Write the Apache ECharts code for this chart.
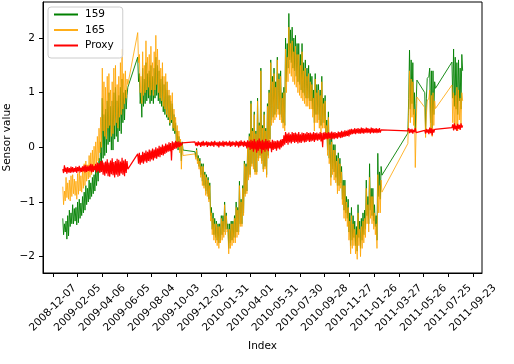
<!DOCTYPE html>
<html>
<head>
<meta charset="utf-8">
<script src="https://cdn.jsdelivr.net/npm/echarts@6/dist/echarts.min.js"></script>
<style>
html, body { margin: 0; padding: 0; background: #fff; }
#chart { width: 514px; height: 364px; }
</style>
</head>
<body>
<div id="chart"></div>
<script>
// x tick labels, one every 60 days starting 2008-12-07
const tickLabels = ['2008-12-07', '2009-02-05', '2009-04-06', '2009-06-05', '2009-08-04', '2009-10-03',
    '2009-12-02', '2010-01-31', '2010-04-01', '2010-05-31', '2010-07-30', '2010-09-28',
    '2010-11-27', '2011-01-26', '2011-03-27', '2011-05-26', '2011-07-25', '2011-09-23'];

// recording runs: [first day (days since 2008-12-07), number of samples], one sample every 2 days
const runs = [[24, 80], [206, 56], [345, 228], [862, 12], [903, 14], [969, 14]];
const sampleStep = 2;

const sensor159 = [
    // run 1
    -1.30, -1.60, -1.40, -1.55, -1.35, -1.68, -1.25, -1.62, -1.15, -1.45,
    -1.20, -1.40, -1.05, -1.40, -1.12, -1.35, -1.10, -1.42, -1.00, -1.38,
    -0.95, -1.30, -1.02, -1.25, -0.90, -1.20, -0.82, -1.15, -0.70, -1.05,
    -0.75, -1.00, -0.60, -0.95, -0.65, -0.90, -0.55, -0.85, -0.50, -0.80,
    -0.40, -0.70, -0.35, -0.62, -0.20, -0.45, 0.10, -0.30, 0.90, -0.20,
    0.60, -0.15, 0.70, -0.10, 0.85, 0.05, 1.00, 0.10, 0.75, -0.05,
    0.85, -0.05, 1.00, 0.15, 1.10, 0.20, 0.85, 0.10, 0.95, 0.30,
    1.10, 0.25, 1.25, 0.45, 1.00, 0.50, 1.05, 0.70, 0.95, 1.10,
    // run 2
    1.65, 1.20, 1.35, 0.80, 1.00, 0.55, 1.45, 0.75, 1.25, 0.80,
    1.55, 0.85, 1.35, 0.90, 1.40, 0.80, 1.50, 0.85, 1.30, 0.80,
    1.45, 0.90, 1.65, 0.95, 1.50, 0.85, 1.40, 0.80, 1.25, 0.75,
    1.30, 0.65, 1.15, 0.60, 1.20, 0.55, 1.05, 0.50, 0.95, 0.40,
    0.85, 0.45, 0.80, 0.30, 0.60, 0.25, 0.45, 0.05, 0.30, -0.05,
    0.20, -0.05, 0.10, -0.25, 0.10, -0.05,
    // run 3
    -0.08, -0.18, -0.02, -0.25, -0.15, -0.35, -0.20, -0.50, -0.30, -0.62, -0.30, -0.70, -0.45, -0.80, -0.50, -0.85, -0.55, -0.95, -0.65, -1.25,
    -1.10, -1.50, -1.20, -1.60, -1.30, -1.65, -1.35, -1.70, -1.40, -1.75, -1.40, -1.70, -1.25, -1.60, -1.25, -1.55, -1.00, -1.50, -1.20, -1.50,
    -1.40, -1.85, -1.40, -1.75, -1.35, -1.70, -1.35, -1.65, -1.25, -1.65, -1.00, -1.55, -1.10, -1.55, -0.62, -1.40, -0.95, -1.40, -0.70, -1.20,
    -0.25, -0.85, -0.30, -0.80, 0.10, -0.55, 0.25, -0.50, 0.85, -0.30, 0.35, -0.35, 0.65, -0.45, 0.30, -0.45, 0.90, -0.20, 0.45, -0.15,
    1.45, -0.25, 0.40, -0.40, 0.65, -0.35, 0.35, -0.50, 0.80, -0.15, 1.05, 0.15, 1.60, 0.50, 1.30, 0.55, 1.45, 0.60, 1.20, 0.65,
    1.65, 0.70, 1.35, 0.60, 1.40, 0.55, 1.00, 0.45, 1.10, 0.40, 2.00, 1.20, 1.90, 1.45, 2.45, 1.60, 2.15, 1.55, 2.20, 1.45,
    2.00, 1.40, 2.05, 1.30, 1.90, 1.20, 1.90, 1.15, 1.70, 1.05, 1.90, 1.00, 1.55, 0.95, 1.60, 0.90, 1.45, 0.90, 1.50, 0.85,
    1.35, 0.85, 1.30, 0.70, 1.05, 0.45, 1.35, 0.60, 1.15, 0.60, 1.15, 0.50, 1.05, 0.40, 1.30, 0.45, 0.90, 0.45, 0.95, 0.25,
    0.50, -0.05, 0.65, -0.20, 0.15, -0.55, 0.20, -0.40, 0.05, -0.45, 0.05, -0.55, -0.15, -0.70, -0.10, -0.70, -0.20, -0.65, -0.35, -0.95,
    -0.60, -1.15, -0.60, -1.20, -0.90, -1.30, -0.95, -1.55, -1.20, -1.80, -1.10, -1.70, -1.25, -1.65, -1.35, -1.80, -1.45, -1.90, -1.05, -1.65,
    -1.35, -1.85, -1.30, -1.70, -1.20, -1.60, -1.15, -1.50, -0.60, -1.25, -0.90, -1.40, -0.30, -1.15, -0.75, -1.25, -0.75, -1.35, -1.05, -1.45,
    -1.25, -1.70, -0.11, -0.90, -0.45, -0.95, -0.35, -0.51,
    // run 4
    0.26, 0.90, 1.78, 0.70, 1.60, 0.80, 1.55, 0.60, 1.00, 0.30, 0.80, 1.23,
    // run 5
    1.00, 0.30, 0.90, 1.26, 1.26, 1.30, 1.45, 0.45, 1.40, 0.35, 1.40, 0.60, 1.20, 1.08,
    // run 6
    1.56, 0.90, 1.80, 0.75, 1.65, 0.70, 1.55, 0.60, 1.60, 0.85, 1.45, 0.70, 1.70, 1.40
];

const sensor165 = [
    -0.72, -1.05, -0.80, -0.98, -0.55, -0.92, -0.65, -0.95, -0.60, -0.98,
    -0.52, -0.90, -0.50, -0.85, -0.58, -0.88, -0.62, -0.95, -0.48, -0.86,
    -0.45, -0.80, -0.52, -0.82, -0.40, -0.75, -0.30, -0.70, -0.25, -0.62,
    -0.32, -0.58, -0.15, -0.55, -0.10, -0.50, -0.05, -0.45, 0.02, -0.38,
    0.10, -0.30, 0.20, -0.25, 0.35, -0.10, 0.55, 0.00, 1.45, 0.30,
    1.20, 0.20, 1.10, 0.15, 1.30, 0.35, 1.35, 0.40, 1.05, 0.20,
    1.20, 0.25, 1.45, 0.40, 1.50, 0.45, 1.15, 0.35, 1.30, 0.55,
    1.55, 0.60, 1.80, 0.70, 1.35, 0.80, 1.40, 0.90, 1.25, 1.15,

    2.10, 1.55, 1.70, 1.00, 1.30, 0.80, 1.75, 0.95, 1.50, 1.00,
    1.95, 1.05, 1.65, 1.10, 1.70, 0.95, 1.85, 1.05, 1.55, 0.95,
    1.75, 1.05, 2.05, 1.15, 1.80, 1.00, 1.60, 0.90, 1.45, 0.85,
    1.55, 0.75, 1.30, 0.70, 1.35, 0.60, 1.20, 0.55, 1.05, 0.45,
    0.95, 0.50, 1.00, 0.35, 0.70, 0.30, 0.55, 0.10, 0.40, 0.00,
    0.30, -0.10, 0.15, -0.40, 0.05, -0.15,

    -0.12, -0.22, -0.05, -0.30, -0.20, -0.40, -0.25, -0.55, -0.35, -0.70, -0.35, -0.75, -0.50, -0.88, -0.55, -0.90, -0.60, -1.00, -0.70, -1.35,
    -1.20, -1.60, -1.30, -1.70, -1.40, -1.75, -1.40, -1.80, -1.45, -1.85, -1.45, -1.75, -1.30, -1.70, -1.35, -1.65, -1.05, -1.60, -1.25, -1.55,
    -1.50, -1.95, -1.50, -1.85, -1.40, -1.80, -1.40, -1.75, -1.30, -1.75, -1.10, -1.65, -1.15, -1.60, -0.70, -1.45, -1.00, -1.45, -0.75, -1.25,
    -0.30, -0.90, -0.35, -0.85, 0.05, -0.60, 0.20, -0.55, 0.80, -0.35, 0.30, -0.40, 0.60, -0.50, 0.25, -0.50, 0.85, -0.25, 0.40, -0.20,
    1.40, -0.30, 0.35, -0.45, 0.60, -0.40, 0.30, -0.55, 0.75, -0.20, 1.00, 0.10, 1.55, 0.40, 1.20, 0.45, 1.35, 0.50, 1.10, 0.55,
    1.60, 0.60, 1.25, 0.50, 1.30, 0.45, 0.90, 0.35, 1.00, 0.30, 1.80, 1.00, 1.65, 1.20, 2.20, 1.35, 1.90, 1.30, 1.95, 1.20,
    1.75, 1.15, 1.85, 1.10, 1.70, 1.00, 1.70, 0.95, 1.50, 0.90, 1.75, 0.85, 1.40, 0.80, 1.45, 0.75, 1.30, 0.75, 1.35, 0.70,
    1.20, 0.70, 1.15, 0.55, 0.90, 0.30, 1.25, 0.45, 1.00, 0.45, 1.05, 0.35, 0.95, 0.25, 1.20, 0.35, 0.80, 0.35, 0.85, 0.15,
    0.40, -0.15, 0.55, -0.30, 0.05, -0.70, 0.10, -0.50, -0.05, -0.60, -0.05, -0.65, -0.25, -0.85, -0.20, -0.80, -0.30, -0.75, -0.45, -1.05,
    -0.70, -1.30, -0.70, -1.35, -1.00, -1.45, -1.10, -1.70, -1.35, -1.95, -1.25, -1.85, -1.40, -1.80, -1.50, -1.95, -1.60, -2.05, -1.20, -1.80,
    -1.50, -2.00, -1.45, -1.85, -1.35, -1.75, -1.30, -1.65, -0.75, -1.40, -1.05, -1.55, -0.55, -1.30, -0.90, -1.40, -0.90, -1.50, -1.20, -1.60,
    -1.40, -1.85, -0.50, -1.20, -0.70, -1.20, -0.60, -0.82,

    0.07, 0.60, 1.40, 0.45, 1.25, 0.55, 1.20, 0.40, 0.70, -0.37, 0.30, 0.92,

    0.73, 0.18, 0.60, 0.85, 0.85, 0.90, 1.05, 0.30, 0.95, 0.20, 1.00, 0.40, 0.85, 0.71,

    1.14, 0.45, 1.00, 0.35, 0.95, 0.40, 1.10, 0.30, 1.05, 0.50, 0.90, 0.40, 1.00, 0.85
];

const proxy = [
    -0.40, -0.47, -0.33, -0.45, -0.37, -0.48, -0.36, -0.46, -0.38, -0.47,
    -0.35, -0.46, -0.36, -0.46, -0.38, -0.45, -0.35, -0.47, -0.36, -0.44,
    -0.34, -0.46, -0.37, -0.45, -0.35, -0.44, -0.33, -0.46, -0.32, -0.45,
    -0.35, -0.43, -0.33, -0.44, -0.30, -0.46, -0.31, -0.45, -0.34, -0.42,
    -0.30, -0.46, -0.28, -0.44, -0.29, -0.47, -0.25, -0.45, -0.24, -0.50,
    -0.28, -0.52, -0.26, -0.48, -0.22, -0.53, -0.28, -0.54, -0.24, -0.49,
    -0.20, -0.51, -0.27, -0.55, -0.25, -0.50, -0.21, -0.54, -0.23, -0.52,
    -0.26, -0.48, -0.19, -0.50, -0.24, -0.53, -0.22, -0.47, -0.25, -0.40,

    -0.12, -0.30, -0.10, -0.32, -0.14, -0.28, -0.08, -0.30, -0.10, -0.26,
    -0.06, -0.28, -0.08, -0.25, -0.04, -0.26, -0.06, -0.22, -0.02, -0.24,
    -0.04, -0.20, 0.00, -0.21, -0.02, -0.17, 0.03, -0.18, 0.01, -0.14,
    0.05, -0.15, 0.03, -0.12, 0.07, -0.10, 0.05, -0.08, 0.09, -0.07,
    0.08, -0.24, 0.11, -0.05, 0.09, -0.03, 0.12, -0.02, 0.10, 0.00,
    0.11, 0.01, 0.09, 0.03, 0.08, 0.05,

    0.10, 0.03, 0.09, 0.02, 0.11, 0.04, 0.09, 0.01, 0.10, 0.03, 0.12, 0.02, 0.09, 0.04, 0.11, 0.01, 0.10, 0.03, 0.09, 0.02,
    0.11, 0.03, 0.10, 0.01, 0.12, 0.04, 0.09, 0.02, 0.10, 0.00, 0.11, 0.03, 0.09, 0.02, 0.12, 0.01, 0.10, 0.04, 0.11, 0.02,
    0.09, 0.03, 0.12, 0.01, 0.10, 0.02, 0.11, 0.04, 0.09, 0.01, 0.12, 0.03, 0.10, 0.00, 0.11, 0.02, 0.13, 0.03, 0.10, 0.01,
    0.12, 0.02, 0.10, -0.02, 0.13, 0.00, 0.11, -0.05, 0.14, -0.03, 0.12, -0.08, 0.15, -0.04, 0.11, -0.10, 0.13, -0.06, 0.16, -0.03,
    0.12, -0.11, 0.14, -0.05, 0.11, -0.08, 0.15, -0.04, 0.12, -0.07, 0.13, -0.02, 0.10, -0.09, 0.14, -0.05, 0.12, -0.03, 0.11, -0.06,
    0.13, -0.02, 0.12, -0.04, 0.14, 0.00, 0.15, 0.02, 0.22, 0.05, 0.28, 0.08, 0.25, 0.05, 0.27, 0.09, 0.24, 0.07, 0.28, 0.10,
    0.26, 0.08, 0.27, 0.10, 0.25, 0.07, 0.28, 0.09, 0.24, 0.08, 0.27, 0.11, 0.26, 0.09, 0.25, 0.10, 0.28, 0.12, 0.26, 0.10,
    0.27, 0.11, 0.25, 0.12, 0.28, 0.10, 0.26, 0.13, 0.27, 0.12, 0.25, 0.14, 0.28, 0.11, 0.26, 0.00, 0.27, 0.14, 0.28, 0.15,
    0.26, 0.15, 0.28, 0.16, 0.27, 0.14, 0.29, 0.16, 0.27, 0.15, 0.28, 0.17, 0.26, 0.16, 0.29, 0.18, 0.28, 0.17, 0.30, 0.18,
    0.29, 0.19, 0.31, 0.20, 0.30, 0.21, 0.32, 0.20, 0.33, 0.23, 0.34, 0.24, 0.33, 0.25, 0.35, 0.24, 0.34, 0.26, 0.35, 0.25,
    0.34, 0.25, 0.36, 0.26, 0.35, 0.25, 0.34, 0.27, 0.36, 0.26, 0.35, 0.27, 0.34, 0.25, 0.36, 0.27, 0.35, 0.26, 0.34, 0.27,
    0.35, 0.26, 0.34, 0.27, 0.35, 0.27, 0.32, 0.30,

    0.30, 0.35, 0.26, 0.33, 0.27, 0.34, 0.25, 0.32, 0.28, 0.35, 0.27, 0.30,

    0.31, 0.25, 0.34, 0.27, 0.33, 0.24, 0.36, 0.26, 0.35, 0.22, 0.34, 0.27, 0.33, 0.30,

    0.36, 0.42, 0.31, 0.44, 0.33, 0.40, 0.30, 0.43, 0.34, 0.41, 0.32, 0.44, 0.36, 0.40
];

const yTicks = [-2, -1, 0, 1, 2];

const FONT = 'DejaVu Sans';

let days = [];
runs.forEach(([start, count]) => {
    for (let i = 0; i < count; i++) days.push(start + i * sampleStep);
});

function toPairs(values) {
    return values.map((v, i) => [days[i], v]);
}

function lineSeries(name, values, color, width, opacity) {
    return {
        name: name,
        type: 'line',
        data: toPairs(values),
        symbol: 'none',
        animation: false,
        lineStyle: { color: color, width: width, opacity: opacity },
        itemStyle: { color: color },
        emphasis: { disabled: true }
    };
}

const chart = echarts.init(document.getElementById('chart'));

chart.setOption({
    animation: false,
    textStyle: { fontFamily: FONT },
    grid: {
        left: 43, right: 32, top: 2, bottom: 91,
        show: true, borderColor: '#000', borderWidth: 1,
        outerBoundsMode: 'none'
    },
    legend: {
        orient: 'vertical',
        left: 48, top: 7,
        padding: [2, 9, 7, 5],
        itemWidth: 24, itemHeight: 13, itemGap: 4.5,
        itemStyle: { opacity: 0 },
        borderColor: '#cccccc', borderWidth: 1, borderRadius: 3,
        backgroundColor: 'rgba(255,255,255,0.8)',
        textStyle: { fontFamily: FONT, fontSize: 10.5, color: '#000', padding: [0, 0, 0, 2] },
        data: ['159', '165', 'Proxy']
    },
    xAxis: {
        type: 'value',
        min: -24, max: 1042,
        name: 'Index',
        nameLocation: 'middle',
        nameGap: 68,
        nameMoveOverlap: false,
        nameTextStyle: { fontFamily: FONT, fontSize: 10.5, color: '#000' },
        axisLine: { show: true, onZero: false, lineStyle: { color: '#000', width: 1 } },
        axisTick: {
            show: true, inside: false, length: 4,
            lineStyle: { color: '#000', width: 1 },
            customValues: tickLabels.map((_, i) => i * 60)
        },
        axisLabel: {
            customValues: tickLabels.map((_, i) => i * 60),
            formatter: v => tickLabels[Math.round(v / 60)],
            rotate: 45,
            align: 'center',
            verticalAlign: 'middle',
            margin: 35,
            fontFamily: FONT, fontSize: 10.5, color: '#000'
        },
        splitLine: { show: false }
    },
    yAxis: {
        type: 'value',
        min: -2.30, max: 2.66,
        name: 'Sensor value',
        nameLocation: 'middle',
        nameGap: 30,
        nameMoveOverlap: false,
        nameTextStyle: { fontFamily: FONT, fontSize: 10.5, color: '#000' },
        axisLine: { show: true, onZero: false, lineStyle: { color: '#000', width: 1 } },
        axisTick: {
            show: true, inside: false, length: 4,
            lineStyle: { color: '#000', width: 1 },
            customValues: yTicks
        },
        axisLabel: {
            customValues: yTicks,
            formatter: v => String(v).replace('-', '\u2212'),
            margin: 8,
            fontFamily: FONT, fontSize: 10.5, color: '#000'
        },
        splitLine: { show: false }
    },
    series: [
        lineSeries('159', sensor159, '#008000', 0.9, 1),
        lineSeries('165', sensor165, '#ffa500', 0.9, 0.9),
        lineSeries('Proxy', proxy, '#ff0000', 1.2, 1)
    ]
});
</script>
</body>
</html>
